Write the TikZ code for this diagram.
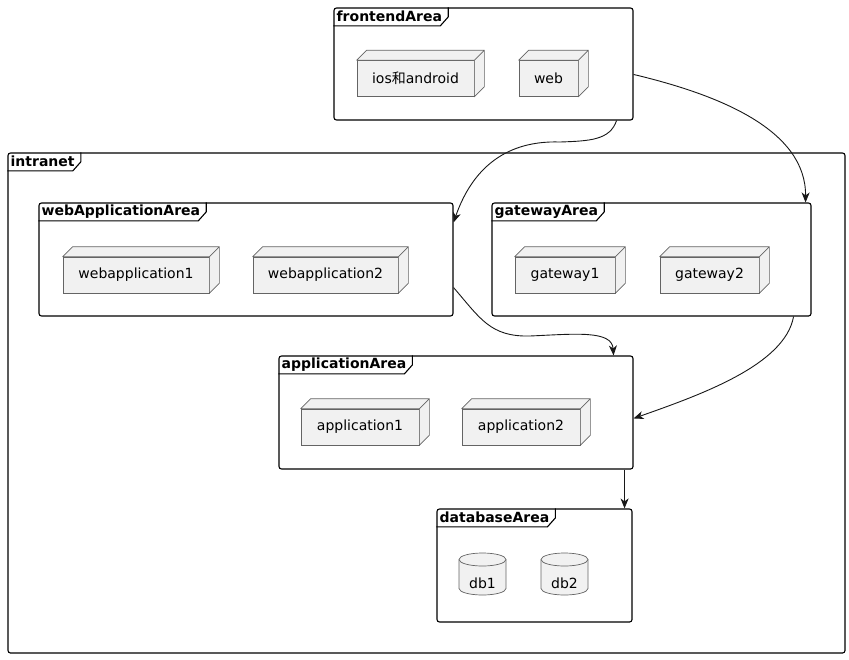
\documentclass[tikz,border=0pt]{standalone}
\usepackage{fontspec}
\setmainfont{DejaVu Sans}
\newfontfamily\cjk{Noto Sans CJK SC}
\usetikzlibrary{shapes,arrows.meta,positioning,calc}
\definecolor{boxfill}{RGB}{241,241,241}
\definecolor{boxline}{RGB}{100,100,100}
\definecolor{linkline}{RGB}{24,24,24}

\begin{document}
\begin{tikzpicture}[x=1pt, y=-1pt, font=\fontsize{14}{16}\selectfont,
    area/.style={draw=black, line width=1.1pt, rounded corners=2.5pt, inner sep=0},
    areatitle/.style={anchor=north west, font=\fontsize{14}{16}\selectfont\bfseries, inner xsep=3pt, inner ysep=0pt, minimum height=18pt},
    device/.style={draw=boxline, fill=boxfill, line width=0.7pt, minimum height=36pt, inner sep=0},
    devside/.style={draw=boxline, fill=boxfill, line width=0.7pt, line join=round},
    storeline/.style={draw=boxline, fill=boxfill, line width=0.7pt},
    link/.style={draw=linkline, line width=0.9pt, -{Stealth[length=10pt,width=8pt,inset=3pt]}}]

    \useasboundingbox (0,0) rectangle (849,659);

    % Areas
    \node[area, minimum width=299pt, minimum height=112pt] (frontendArea) at (483.5,64) {};
    \node[area, minimum width=837pt, minimum height=500pt] (intranet) at (426.5,403) {};
    \node[area, minimum width=414pt, minimum height=113pt] (webApplicationArea) at (246,259.5) {};
    \node[area, minimum width=319pt, minimum height=113pt] (gatewayArea) at (651.5,259.5) {};
    \node[area, minimum width=354pt, minimum height=113pt] (applicationArea) at (456,412.5) {};
    \node[area, minimum width=195pt, minimum height=113pt] (databaseArea) at (534.5,565.5) {};

    % Title tabs
    \foreach \a in {frontendArea, intranet, webApplicationArea, gatewayArea, applicationArea, databaseArea} {
        \node[areatitle] (\a-t) at (\a.north west) {\a};
        \draw[line width=1.1pt] ($(\a-t.north east)+(3,0)$) -- ($(\a-t.south east)+(3,-9)$)
            -- ($(\a-t.south east)+(-5,0)$) -- (\a-t.south west);
    }

    % Devices
    \node[device, minimum width=117pt] (ios) at (415.5,78.5) {ios{\cjk 和}android};
    \node[device, minimum width=59pt] (web) at (548.5,78.5) {web};
    \node[device, minimum width=146pt] (webapp1) at (136,275) {webapplication1};
    \node[device, minimum width=145pt] (webapp2) at (325.5,275) {webapplication2};
    \node[device, minimum width=100pt] (gw1) at (565,275) {gateway1};
    \node[device, minimum width=99pt] (gw2) at (709.5,275) {gateway2};
    \node[device, minimum width=118pt] (app1) at (360,427) {application1};
    \node[device, minimum width=118pt] (app2) at (521,427) {application2};

    % 3D sides
    \foreach \n in {ios, web, webapp1, webapp2, gw1, gw2, app1, app2}
        \draw[devside] (\n.north west) -- ++(10,-10) -- ($(\n.north east)+(10,-10)$)
            -- ($(\n.south east)+(10,-10)$) -- (\n.south east) -- (\n.north east) -- cycle
            (\n.north east) -- ++(10,-10);

    % Databases
    \foreach \n/\x in {db1/459, db2/541} {
        \coordinate (\n-top) at (\x,553);
        \draw[storeline, shift={(\n-top)}] (0,6.5) -- (0,35.5) .. controls (0,39.1) and (10.5,42) .. (23.5,42)
            .. controls (36.5,42) and (47,39.1) .. (47,35.5) -- (47,6.5)
            .. controls (47,2.9) and (36.5,0) .. (23.5,0) .. controls (10.5,0) and (0,2.9) .. cycle;
        \draw[storeline, fill=none, shift={(\n-top)}] (0,6.5) .. controls (0,10.1) and (10.5,13) .. (23.5,13)
            .. controls (36.5,13) and (47,10.1) .. (47,6.5);
        \node (\n) at ($(\n-top)+(23.5,30)$) {\n};
    }

    % Links
    \draw[link] ($(frontendArea.south east)+(-17,0)$) .. controls (610,140) and (590,141) .. (560,142)
        .. controls (500,140) and (470,175) .. ($(webApplicationArea.north east)+(0,20)$);
    \draw[link] ($(frontendArea.north east)+(0,67)$) .. controls (720,95) and (806,130) .. ($(gatewayArea.north east)+(-6,0)$);
    \draw[link] ($(webApplicationArea.south east)+(0,-29)$) .. controls (480,318) and (490,337) .. (530,336)
        .. controls (575,334) and (612,330) .. ($(applicationArea.north east)+(-20,0)$);
    \draw[link] ($(gatewayArea.south east)+(-18,0)$) .. controls (785,365) and (700,395) .. ($(applicationArea.north east)+(0,63)$);
    \draw[link] ($(applicationArea.south east)+(-9,0)$) -- ($(databaseArea.north east)+(-8,0)$);
\end{tikzpicture}
\end{document}
